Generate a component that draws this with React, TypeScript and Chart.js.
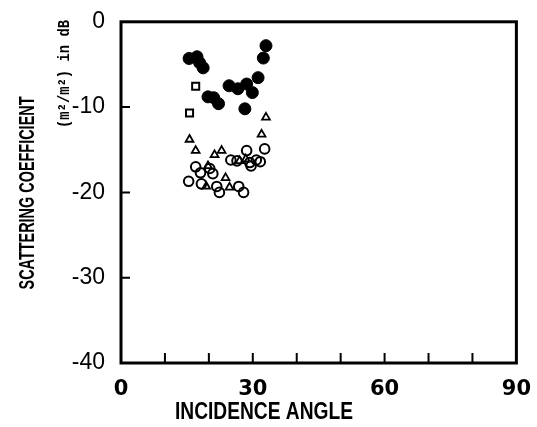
import { useEffect, useRef } from 'react';
import { Chart, registerables } from 'chart.js';

Chart.register(...registerables);

// ---- data (incidence angle in degrees, scattering coefficient in dB) ----
const filledAngles = [15.5, 17.3, 17.9, 18.7, 33.0, 32.4, 31.2, 24.6, 26.6, 28.6, 29.9, 28.2, 19.8, 21.1, 22.2];
const filledDb = [-4.3, -4.1, -4.8, -5.4, -2.8, -4.25, -6.55, -7.5, -7.85, -7.3, -8.3, -10.2, -8.8, -8.9, -9.6];

const squareAngles = [17.0, 15.6];
const squareDb = [-7.55, -10.7];

const triangleAngles = [33.0, 15.6, 32.0, 17.0, 21.3, 22.9, 19.8, 23.8, 24.7, 19.4, 27.0, 28.4];
const triangleDb = [-11.2, -13.8, -13.2, -15.1, -15.6, -15.1, -16.9, -18.3, -19.4, -19.3, -16.3, -16.1];

const openAngles = [28.6, 32.7, 25.0, 26.4, 29.3, 30.8, 31.7, 29.6, 17.0, 18.1, 20.2, 20.9, 15.4, 18.3, 21.8, 22.4, 26.8, 27.9];
const openDb = [-15.1, -14.9, -16.2, -16.3, -16.5, -16.2, -16.4, -16.9, -17.0, -17.7, -17.2, -17.8, -18.7, -19.0, -19.3, -20.0, -19.3, -20.0];

const xInnerTicks = [10, 20, 30, 40, 50, 60, 70, 80];
const yInnerTicks = [-10, -20, -30];
const xLabelEvery = 30;

const xTitle = 'INCIDENCE ANGLE';
const yTitle = 'SCATTERING COEFFICIENT';
const yUnit = '(m\u00B2/m\u00B2) in dB';

const pts = (xs: number[], ys: number[]) => xs.map((x, i) => ({ x, y: ys[i] }));

function drawFitted(ctx: CanvasRenderingContext2D, text: string, cx: number, cy: number, rot: number, font: string, targetW: number) {
  ctx.save();
  ctx.font = font;
  const w = ctx.measureText(text).width;
  ctx.translate(cx, cy);
  ctx.rotate(rot);
  ctx.scale(targetW / w, 1);
  ctx.textAlign = 'center';
  ctx.textBaseline = 'middle';
  ctx.fillStyle = '#000';
  ctx.fillText(text, 0, 0);
  ctx.restore();
}

const framePlugin = {
  id: 'frame',
  afterDraw(chart: any) {
    const { ctx, chartArea: a, scales } = chart;
    ctx.save();
    ctx.strokeStyle = '#000';
    ctx.lineWidth = 3;
    ctx.strokeRect(a.left, a.top, a.right - a.left, a.bottom - a.top);
    ctx.lineWidth = 2;
    ctx.beginPath();
    xInnerTicks.forEach((v) => {
      const px = scales.x.getPixelForValue(v);
      ctx.moveTo(px, a.bottom);
      ctx.lineTo(px, a.bottom - 10);
    });
    yInnerTicks.forEach((v) => {
      const py = scales.y.getPixelForValue(v);
      ctx.moveTo(a.left, py);
      ctx.lineTo(a.left + 9, py);
    });
    ctx.stroke();
    ctx.restore();

    drawFitted(ctx, xTitle, 264, 412, 0, 'bold 24px "Liberation Sans Narrow", "Liberation Sans", sans-serif', 178);
    drawFitted(ctx, yTitle, 28, 193, -Math.PI / 2, 'bold 22px "Liberation Sans Narrow", "Liberation Sans", sans-serif', 193);
    drawFitted(ctx, yUnit, 65, 74, -Math.PI / 2, 'bold 16px "Liberation Mono", "DejaVu Sans Mono", monospace', 108);
  },
};

export default function App() {
  const ref = useRef<HTMLCanvasElement | null>(null);

  useEffect(() => {
    if (!ref.current) return;
    const chart = new Chart(ref.current, {
      type: 'scatter',
      data: {
        datasets: [
          {
            data: pts(filledAngles, filledDb),
            pointStyle: 'circle',
            pointRadius: 6,
            backgroundColor: '#000',
            borderColor: '#000',
            borderWidth: 1,
          },
          {
            data: pts(squareAngles, squareDb),
            pointStyle: 'rect',
            pointRadius: 5,
            backgroundColor: '#fff',
            borderColor: '#000',
            borderWidth: 2,
          },
          {
            data: pts(triangleAngles, triangleDb),
            pointStyle: 'triangle',
            pointRadius: 4.5,
            backgroundColor: 'rgba(255,255,255,0)',
            borderColor: '#000',
            borderWidth: 1.8,
          },
          {
            data: pts(openAngles, openDb),
            pointStyle: 'circle',
            pointRadius: 4.8,
            backgroundColor: 'rgba(255,255,255,0)',
            borderColor: '#000',
            borderWidth: 2,
          },
        ],
      },
      options: {
        responsive: false,
        animation: false,
        events: [],
        layout: { padding: { top: 15, right: 19, left: 0, bottom: 0 } },
        plugins: { legend: { display: false }, tooltip: { enabled: false } },
        scales: {
          x: {
            type: 'linear',
            min: 0,
            max: 90,
            grid: { display: false },
            border: { display: false },
            ticks: {
              stepSize: 10,
              autoSkip: false,
              maxRotation: 0,
              padding: 6,
              color: '#000',
              font: { family: '"DejaVu Sans", sans-serif', weight: 'bold', size: 21 },
              callback: (v: any) => (Number(v) % xLabelEvery === 0 ? String(v) : ''),
            },
            afterFit: (s: any) => {
              s.height = 64;
            },
          },
          y: {
            type: 'linear',
            min: -40,
            max: 0,
            grid: { display: false },
            border: { display: false },
            ticks: {
              stepSize: 10,
              padding: 8,
              color: '#000',
              font: { family: '"Liberation Sans", Arial, sans-serif', size: 23 },
            },
            afterFit: (s: any) => {
              s.width = 121;
            },
          },
        },
      },
      plugins: [framePlugin],
    });
    return () => chart.destroy();
  }, []);

  return (
    <div style={{ position: 'absolute', left: 0, top: 0, width: 537, height: 427, background: '#fff' }}>
      <canvas ref={ref} width={537} height={427} />
    </div>
  );
}
